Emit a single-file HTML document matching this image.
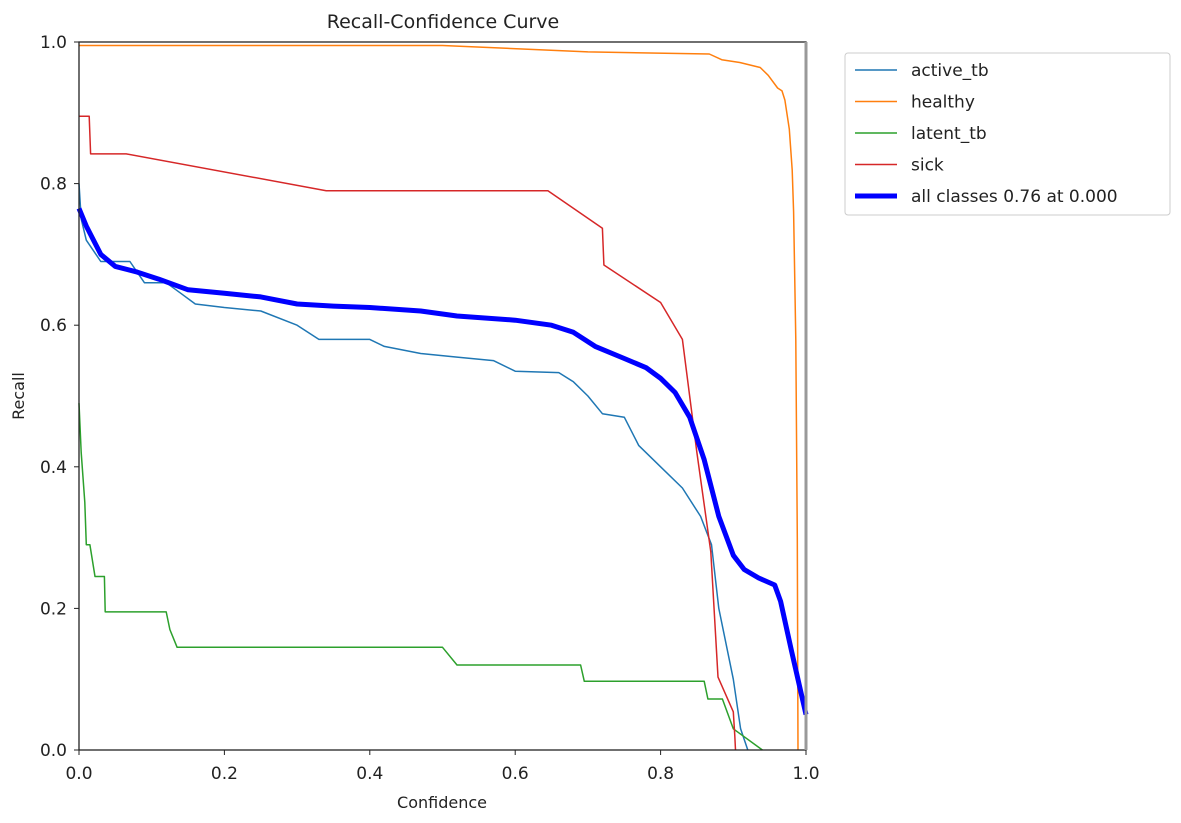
<!DOCTYPE html>
<html><head><meta charset="utf-8"><style>
body{margin:0;background:#fff;width:1181px;height:818px;overflow:hidden;font-family:"Liberation Sans","DejaVu Sans",sans-serif}
text{font-family:"DejaVu Sans","Liberation Sans",sans-serif;fill:#222}
</style></head><body>
<svg id="chart" width="1181" height="818">
<text x="443" y="28" font-size="19" text-anchor="middle">Recall-Confidence Curve</text>
<text x="442" y="808" font-size="16" text-anchor="middle">Confidence</text>
<text x="24" y="396" font-size="16" text-anchor="middle" transform="rotate(-90 24 396)">Recall</text>
<g id="plot"></g>
<g id="axes"></g>
<g>
<rect x="845" y="53" width="325" height="162" rx="3" fill="#fff" stroke="#ccc"/>
<g id="legend"></g>
</g>
</svg>
<script>
const xTicks=[0,0.2,0.4,0.6,0.8,1.0];
const yTicks=[0,0.2,0.4,0.6,0.8,1.0];
const tickLabels=["0.0","0.2","0.4","0.6","0.8","1.0"];
const seriesNames=["active_tb","healthy","latent_tb","sick","all classes 0.76 at 0.000"];
const seriesColors=["#1f77b4","#ff7f0e","#2ca02c","#d62728","#0000ff"];
const activeX=[0,0.003,0.01,0.03,0.07,0.09,0.12,0.14,0.16,0.2,0.25,0.3,0.33,0.4,0.42,0.47,0.52,0.57,0.6,0.66,0.68,0.7,0.72,0.75,0.77,0.8,0.83,0.855,0.87,0.88,0.9,0.91,0.92];
const activeY=[0.8,0.75,0.72,0.69,0.69,0.66,0.66,0.645,0.63,0.625,0.62,0.6,0.58,0.58,0.57,0.56,0.555,0.55,0.535,0.533,0.52,0.5,0.475,0.47,0.43,0.4,0.37,0.33,0.29,0.2,0.1,0.03,0];
const healthyX=[0,0.5,0.7,0.867,0.884,0.909,0.937,0.948,0.961,0.967,0.971,0.977,0.981,0.983,0.986,0.988,0.989];
const healthyY=[0.995,0.995,0.986,0.983,0.975,0.971,0.964,0.953,0.935,0.931,0.918,0.877,0.819,0.76,0.579,0.3,0];
const latentX=[0,0.003,0.008,0.01,0.015,0.022,0.025,0.035,0.036,0.12,0.125,0.135,0.5,0.52,0.69,0.695,0.86,0.865,0.885,0.9,0.94];
const latentY=[0.49,0.42,0.35,0.29,0.29,0.245,0.245,0.245,0.195,0.195,0.17,0.145,0.145,0.12,0.12,0.097,0.097,0.072,0.072,0.03,0];
const sickX=[0,0.014,0.016,0.065,0.34,0.645,0.72,0.722,0.8,0.83,0.85,0.869,0.879,0.9,0.902,0.903];
const sickY=[0.895,0.895,0.842,0.842,0.79,0.79,0.737,0.685,0.632,0.58,0.42,0.28,0.103,0.054,0.02,0];
const allX=[0,0.01,0.03,0.05,0.08,0.11,0.15,0.2,0.25,0.3,0.35,0.4,0.47,0.52,0.6,0.65,0.68,0.71,0.75,0.78,0.8,0.82,0.84,0.86,0.88,0.9,0.915,0.935,0.957,0.965,0.98,1.0];
const allY=[0.765,0.74,0.7,0.683,0.675,0.665,0.65,0.645,0.64,0.63,0.627,0.625,0.62,0.613,0.607,0.6,0.59,0.57,0.553,0.54,0.525,0.505,0.47,0.41,0.33,0.275,0.255,0.243,0.233,0.21,0.14,0.05];
const X0=79,X1=806,Y0=750,Y1=42;
function sx(v){return X0+(X1-X0)*v;}
function sy(v){return Y0-(Y0-Y1)*v;}
const NS="http://www.w3.org/2000/svg";
const plot=document.getElementById('plot'),axes=document.getElementById('axes'),leg=document.getElementById('legend');
function mk(t,a,p){const e=document.createElementNS(NS,t);for(const k in a)e.setAttribute(k,a[k]);p.appendChild(e);return e;}
const data=[[activeX,activeY],[healthyX,healthyY],[latentX,latentY],[sickX,sickY],[allX,allY]];
const lineNames=["active-tb-line","healthy-line","latent-tb-line","sick-line","all-classes-line"];
data.forEach((d,i)=>{
 const pts=d[0].map((x,j)=>sx(x).toFixed(1)+","+sy(d[1][j]).toFixed(1)).join(" ");
 const pl=mk('polyline',{points:pts,fill:'none',stroke:seriesColors[i],'stroke-width':i==4?5:1.5,'stroke-linejoin':'round'},plot);
 
 
});
const frame=mk('rect',{x:X0,y:Y1,width:X1-X0,height:Y0-Y1,fill:'none',stroke:'#222','stroke-width':1.3},axes);


mk('line',{x1:X1,x2:X1,y1:Y1,y2:Y0,stroke:'#999','stroke-width':3},axes);
xTicks.forEach((v,i)=>{
 mk('line',{x1:sx(v),x2:sx(v),y1:Y0,y2:Y0+5,stroke:'#222'},axes);
 const t=mk('text',{x:sx(v),y:Y0+29,'font-size':17,'text-anchor':'middle'},axes);t.textContent=tickLabels[i];
 
 
});
yTicks.forEach((v,i)=>{
 mk('line',{x1:X0-5,x2:X0,y1:sy(v),y2:sy(v),stroke:'#222'},axes);
 const t=mk('text',{x:X0-12,y:sy(v)+6,'font-size':17,'text-anchor':'end'},axes);t.textContent=tickLabels[i];
 
 
});
seriesNames.forEach((n,i)=>{
 const y=70+i*31.5;
 const g=mk('g',{},leg);
 
 
 mk('line',{x1:855,x2:897,y1:y,y2:y,stroke:seriesColors[i],'stroke-width':i==4?5:1.5},g);
 const t=mk('text',{x:911,y:y+6,'font-size':17},g);t.textContent=n;
});
</script>
</body></html>
